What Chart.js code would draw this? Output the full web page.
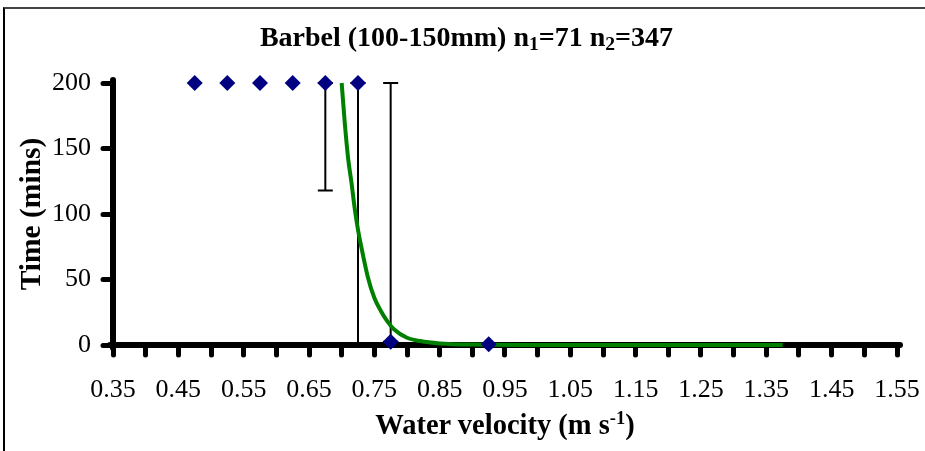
<!DOCTYPE html>
<html>
<head>
<meta charset="utf-8">
<script src="https://cdn.jsdelivr.net/npm/chart.js@4.4.0/dist/chart.umd.min.js"></script>
<style>
  body { margin: 0; background: #fff; }
  #wrap { position: relative; width: 925px; height: 451px; overflow: hidden; }
  #frame { position: absolute; left: 3px; top: 7px; right: -4px; bottom: -4px;
           border-top: 2px solid #444; border-left: 2px solid #000; pointer-events: none; }
  .lbl { position: absolute; font-family: 'Liberation Serif', 'Times New Roman', serif;
         font-weight: bold; font-size: 28px; line-height: 28px; white-space: nowrap;
         color: #000; text-align: center; pointer-events: none; }
  #title { left: 4px; width: 925px; top: 23px; }
  #xtitle { left: 113px; width: 784px; top: 411px; font-size: 28.5px; }
  sub { font-size: 0.7em; vertical-align: -0.2em; line-height: 0; }
  sup { font-size: 0.65em; vertical-align: 0.55em; line-height: 0; }
  canvas { position: absolute; left: 0; top: 0; }
</style>
</head>
<body>
<div id="wrap">
  <canvas id="grafico" width="925" height="451"></canvas>
  <div id="frame"></div>
  <div class="lbl" id="title">Barbel (100-150mm) n<sub>1</sub>=71 n<sub>2</sub>=347</div>
  <div class="lbl" id="xtitle">Water velocity (m s<sup>-1</sup>)</div>
</div>
<script>
// observed points (bin centres)
const obsX = [0.475, 0.525, 0.575, 0.625, 0.675, 0.725, 0.775, 0.925];
const obsY = [200, 200, 200, 200, 200, 200, 2.5, 0.5];

// fitted curve
const fitX = [0.70, 0.705, 0.71, 0.715, 0.72, 0.725, 0.73, 0.74, 0.75, 0.76, 0.77, 0.78, 0.80, 0.82, 0.85, 0.90, 1.00, 1.10, 1.20, 1.30, 1.375];
const fitY = [200, 168, 142, 124, 104, 88, 75, 52, 36, 26, 18, 12, 5.5, 3, 1.2, 0.3, 0, 0, 0, 0, 0];

// error bars
const errX = [0.675, 0.725, 0.775];
const errLow = [118, 0, 2.5];
const errHigh = [200, 200, 200];

const xTicks = [0.35, 0.40, 0.45, 0.50, 0.55, 0.60, 0.65, 0.70, 0.75, 0.80, 0.85, 0.90, 0.95,
                1.00, 1.05, 1.10, 1.15, 1.20, 1.25, 1.30, 1.35, 1.40, 1.45, 1.50, 1.55];
const xTickLabels = ['0.35', '0.45', '0.55', '0.65', '0.75', '0.85', '0.95', '1.05', '1.15', '1.25', '1.35', '1.45', '1.55'];
const yTicks = [0, 50, 100, 150, 200];

const fuente = "'Liberation Serif', 'Times New Roman', serif";

const capsRedondos = {
  id: 'capsRedondos',
  beforeDraw(chart) {
    chart.ctx.lineCap = 'round';
  }
};

const barrasError = {
  id: 'barrasError',
  beforeDatasetsDraw(chart) {
    const { ctx, scales: { x, y } } = chart;
    ctx.save();
    ctx.strokeStyle = '#000';
    ctx.lineWidth = 2;
    ctx.lineCap = 'butt';
    errX.forEach((v, i) => {
      const px = x.getPixelForValue(v);
      const lo = y.getPixelForValue(errLow[i]);
      const hi = y.getPixelForValue(errHigh[i]);
      ctx.beginPath();
      ctx.moveTo(px, lo); ctx.lineTo(px, hi);
      ctx.moveTo(px - 7.5, lo); ctx.lineTo(px + 7.5, lo);
      ctx.moveTo(px - 7.5, hi); ctx.lineTo(px + 7.5, hi);
      ctx.stroke();
    });
    ctx.restore();
  }
};

const grafico = document.getElementById('grafico');

new Chart(grafico, {
  type: 'scatter',
  data: {
    datasets: [{
      label: 'Observed',
      data: obsX.map((v, i) => ({ x: v, y: obsY[i] })),
      pointStyle: 'rectRot',
      pointRadius: 8,
      pointBackgroundColor: '#000080',
      pointBorderColor: '#000080',
      pointBorderWidth: 0,
      clip: false
    }, {
      label: 'Fit',
      data: fitX.map((v, i) => ({ x: v, y: fitY[i] })),
      showLine: true,
      borderColor: '#008000',
      borderWidth: 4,
      borderCapStyle: 'butt',
      cubicInterpolationMode: 'monotone',
      pointRadius: 0,
      clip: false
    }]
  },
  options: {
    responsive: false,
    animation: false,
    layout: { padding: { top: 83, right: 28, bottom: 0, left: 0 } },
    plugins: {
      legend: { display: false },
      tooltip: { enabled: false },
      title: { display: false }
    },
    scales: {
      x: {
        type: 'linear',
        min: 0.35,
        max: 1.55,
        afterBuildTicks: (s) => { s.ticks = xTicks.map(v => ({ value: v })); },
        afterFit: (s) => { s.height = 106; s.paddingLeft = 0; s.paddingRight = 0; },
        grid: { drawOnChartArea: false, drawTicks: true, tickLength: 10, lineWidth: 5, color: '#000' },
        border: { display: true, width: 6, color: '#000' },
        ticks: {
          autoSkip: false,
          maxRotation: 0,
          padding: 20,
          color: '#000',
          font: { family: fuente, size: 26 },
          callback: (value) => {
            const s = Number(value).toFixed(2);
            return xTickLabels.includes(s) ? s : '';
          }
        }
      },
      y: {
        min: 0,
        max: 200,
        afterBuildTicks: (s) => { s.ticks = yTicks.map(v => ({ value: v })); },
        afterFit: (s) => { s.width = 113; s.paddingTop = 0; s.paddingBottom = 0; },
        grid: { drawOnChartArea: false, drawTicks: true, tickLength: 10, lineWidth: 5, color: '#000' },
        border: { display: true, width: 6, color: '#000' },
        ticks: {
          padding: 12,
          color: '#000',
          font: { family: fuente, size: 26 }
        },
        title: {
          display: true,
          text: 'Time (mins)',
          color: '#000',
          font: { family: fuente, size: 29.5, weight: 'bold' },
          padding: { top: 15, bottom: 0 }
        }
      }
    }
  },
  plugins: [capsRedondos, barrasError]
});
</script>
</body>
</html>
